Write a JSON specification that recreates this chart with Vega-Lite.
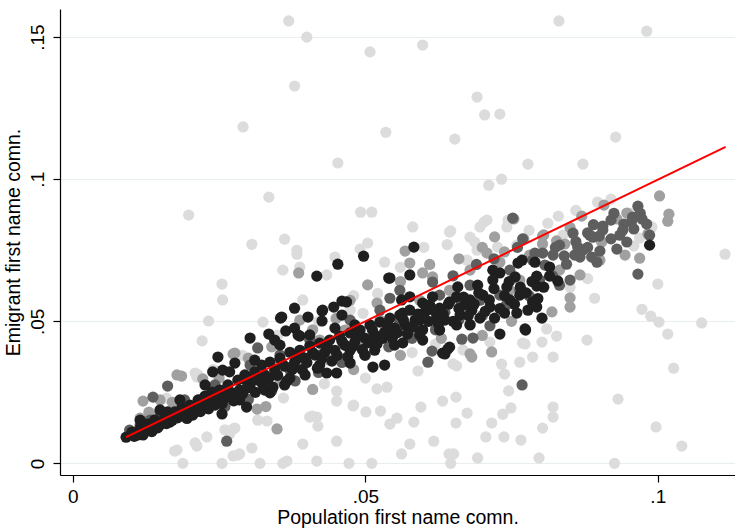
{
  "$schema": "https://vega.github.io/schema/vega-lite/v6.json",
  "width": 675,
  "height": 466,
  "autosize": {"type": "none"},
  "padding": {"left": 60, "top": 9, "right": 0, "bottom": 53},
  "background": "white",
  "config": {
    "view": {"stroke": null},
    "font": "Liberation Sans",
    "axis": {
      "domainColor": "#000000",
      "tickColor": "#000000",
      "labelColor": "#000000",
      "titleColor": "#000000",
      "labelFont": "Liberation Sans",
      "titleFont": "Liberation Sans",
      "labelFontSize": 19,
      "titleFontSize": 19.5,
      "titleFontWeight": "normal",
      "tickSize": 7,
      "domainWidth": 1.2,
      "tickWidth": 1.2
    }
  },
  "layer": [
    {
      "data": {
        "values": [
          {"x":0.0369,"y":0.1557,"g":"a"},{"x":0.0400,"y":0.1500,"g":"a"},{"x":0.0379,"y":0.1328,"g":"a"},{"x":0.0291,"y":0.1184,"g":"a"},
          {"x":0.0453,"y":0.1057,"g":"a"},{"x":0.0335,"y":0.0937,"g":"a"},{"x":0.0198,"y":0.0874,"g":"a"},{"x":0.0492,"y":0.0884,"g":"a"},
          {"x":0.0511,"y":0.0884,"g":"a"},{"x":0.0306,"y":0.0771,"g":"a"},{"x":0.0362,"y":0.0789,"g":"a"},{"x":0.0383,"y":0.0750,"g":"a"},
          {"x":0.0383,"y":0.0736,"g":"a"},{"x":0.0448,"y":0.0726,"g":"a"},{"x":0.0491,"y":0.0754,"g":"a"},{"x":0.0504,"y":0.0775,"g":"a"},
          {"x":0.0508,"y":0.1448,"g":"a"},{"x":0.0831,"y":0.1557,"g":"a"},{"x":0.0981,"y":0.1521,"g":"a"},{"x":0.0598,"y":0.1472,"g":"a"},
          {"x":0.0691,"y":0.1289,"g":"a"},{"x":0.0704,"y":0.1226,"g":"a"},{"x":0.0730,"y":0.1229,"g":"a"},{"x":0.0535,"y":0.1165,"g":"a"},
          {"x":0.0653,"y":0.1141,"g":"a"},{"x":0.0928,"y":0.1148,"g":"a"},{"x":0.0778,"y":0.1053,"g":"a"},{"x":0.0872,"y":0.1053,"g":"a"},
          {"x":0.0711,"y":0.0979,"g":"a"},{"x":0.0733,"y":0.1000,"g":"a"},{"x":0.1115,"y":0.0736,"g":"a"},{"x":0.0581,"y":0.0832,"g":"a"},
          {"x":0.0646,"y":0.0818,"g":"a"},{"x":0.0696,"y":0.0832,"g":"a"},{"x":0.0703,"y":0.0849,"g":"a"},{"x":0.0744,"y":0.0856,"g":"a"},
          {"x":0.0679,"y":0.0796,"g":"a"},{"x":0.0687,"y":0.0779,"g":"a"},{"x":0.0812,"y":0.0845,"g":"a"},{"x":0.0897,"y":0.0919,"g":"a"},
          {"x":0.0920,"y":0.0930,"g":"a"},{"x":0.0990,"y":0.0832,"g":"a"},{"x":0.0969,"y":0.0793,"g":"a"},{"x":0.0959,"y":0.0765,"g":"a"},
          {"x":0.0726,"y":0.0761,"g":"a"},{"x":0.0759,"y":0.0768,"g":"a"},{"x":0.0708,"y":0.0856,"g":"a"},{"x":0.0742,"y":0.0832,"g":"a"},
          {"x":0.0691,"y":0.0750,"g":"a"},{"x":0.0674,"y":0.0715,"g":"a"},{"x":0.0644,"y":0.0814,"g":"a"},{"x":0.0769,"y":0.0423,"g":"a"},
          {"x":0.0786,"y":0.0374,"g":"a"},{"x":0.0713,"y":0.0427,"g":"a"},{"x":0.0838,"y":0.0803,"g":"a"},{"x":0.0952,"y":0.0881,"g":"a"},
          {"x":0.0892,"y":0.0581,"g":"a"},{"x":0.0255,"y":0.0631,"g":"a"},{"x":0.0256,"y":0.0575,"g":"a"},{"x":0.0232,"y":0.0501,"g":"a"},
          {"x":0.0221,"y":0.0431,"g":"a"},{"x":0.0212,"y":0.0304,"g":"a"},{"x":0.0332,"y":0.0149,"g":"a"},{"x":0.0274,"y":0.0121,"g":"a"},
          {"x":0.0268,"y":0.0103,"g":"a"},{"x":0.0229,"y":0.0093,"g":"a"},{"x":0.0212,"y":0.0061,"g":"a"},{"x":0.0174,"y":0.0043,"g":"a"},
          {"x":0.0188,"y":0.0000,"g":"a"},{"x":0.0255,"y":0.0000,"g":"a"},{"x":0.0274,"y":0.0026,"g":"a"},{"x":0.0285,"y":0.0033,"g":"a"},
          {"x":0.0306,"y":0.0054,"g":"a"},{"x":0.0320,"y":0.0000,"g":"a"},{"x":0.0359,"y":0.0000,"g":"a"},{"x":0.0366,"y":0.0008,"g":"a"},
          {"x":0.0393,"y":0.0068,"g":"a"},{"x":0.0417,"y":0.0008,"g":"a"},{"x":0.0451,"y":0.0078,"g":"a"},{"x":0.0472,"y":0.0000,"g":"a"},
          {"x":0.0405,"y":0.0163,"g":"a"},{"x":0.0417,"y":0.0163,"g":"a"},{"x":0.0451,"y":0.0254,"g":"a"},{"x":0.0451,"y":0.0219,"g":"a"},
          {"x":0.0479,"y":0.0202,"g":"a"},{"x":0.0178,"y":0.0047,"g":"a"},{"x":0.0209,"y":0.0072,"g":"a"},{"x":0.0260,"y":0.0118,"g":"a"},
          {"x":0.0277,"y":0.0124,"g":"a"},{"x":0.0282,"y":0.0029,"g":"a"},{"x":0.0316,"y":0.0152,"g":"a"},{"x":0.0209,"y":0.0318,"g":"a"},
          {"x":0.0520,"y":0.0262,"g":"a"},{"x":0.0480,"y":0.0205,"g":"a"},{"x":0.0501,"y":0.0181,"g":"a"},{"x":0.0526,"y":0.0184,"g":"a"},
          {"x":0.0554,"y":0.0159,"g":"a"},{"x":0.0542,"y":0.0138,"g":"a"},{"x":0.0595,"y":0.0198,"g":"a"},{"x":0.0583,"y":0.0145,"g":"a"},
          {"x":0.0632,"y":0.0219,"g":"a"},{"x":0.0655,"y":0.0233,"g":"a"},{"x":0.0655,"y":0.0142,"g":"a"},{"x":0.0674,"y":0.0177,"g":"a"},
          {"x":0.0562,"y":0.0033,"g":"a"},{"x":0.0576,"y":0.0068,"g":"a"},{"x":0.0617,"y":0.0078,"g":"a"},{"x":0.0643,"y":0.0033,"g":"a"},
          {"x":0.0651,"y":0.0033,"g":"a"},{"x":0.0646,"y":0.0000,"g":"a"},{"x":0.0511,"y":0.0000,"g":"a"},{"x":0.0409,"y":0.0166,"g":"a"},
          {"x":0.0419,"y":0.0131,"g":"a"},{"x":0.0973,"y":0.0542,"g":"a"},{"x":0.0988,"y":0.0518,"g":"a"},{"x":0.1002,"y":0.0497,"g":"a"},
          {"x":0.1017,"y":0.0455,"g":"a"},{"x":0.1075,"y":0.0494,"g":"a"},{"x":0.1027,"y":0.0335,"g":"a"},{"x":0.0932,"y":0.0226,"g":"a"},
          {"x":0.0997,"y":0.0128,"g":"a"},{"x":0.1041,"y":0.0061,"g":"a"},{"x":0.0926,"y":0.0000,"g":"a"},{"x":0.0879,"y":0.0434,"g":"a"},
          {"x":0.0827,"y":0.0448,"g":"a"},{"x":0.0810,"y":0.0473,"g":"a"},{"x":0.0802,"y":0.0427,"g":"a"},{"x":0.0773,"y":0.0420,"g":"a"},
          {"x":0.0821,"y":0.0374,"g":"a"},{"x":0.0764,"y":0.0356,"g":"a"},{"x":0.0733,"y":0.0349,"g":"a"},{"x":0.0738,"y":0.0314,"g":"a"},
          {"x":0.0745,"y":0.0255,"g":"a"},{"x":0.0749,"y":0.0195,"g":"a"},{"x":0.0735,"y":0.0173,"g":"a"},{"x":0.0716,"y":0.0142,"g":"a"},
          {"x":0.0706,"y":0.0093,"g":"a"},{"x":0.0737,"y":0.0093,"g":"a"},{"x":0.0766,"y":0.0082,"g":"a"},{"x":0.0692,"y":0.0019,"g":"a"},
          {"x":0.0797,"y":0.0019,"g":"a"},{"x":0.0803,"y":0.0124,"g":"a"},{"x":0.0821,"y":0.0198,"g":"a"},{"x":0.0821,"y":0.0163,"g":"a"},
          {"x":0.0667,"y":0.0399,"g":"a"},{"x":0.1000,"y":0.0631,"g":"a"},{"x":0.0590,"y":0.0325,"g":"a"},{"x":0.0650,"y":0.0350,"g":"a"},
          {"x":0.0656,"y":0.0343,"g":"a"},{"x":0.0359,"y":0.0680,"g":"a"},{"x":0.0388,"y":0.0691,"g":"a"},{"x":0.0434,"y":0.0663,"g":"a"},
          {"x":0.0533,"y":0.0708,"g":"a"},{"x":0.0521,"y":0.0598,"g":"a"},{"x":0.0496,"y":0.0528,"g":"a"},{"x":0.0393,"y":0.0575,"g":"a"},
          {"x":0.0325,"y":0.0497,"g":"a"},{"x":0.0474,"y":0.0539,"g":"a"},{"x":0.0537,"y":0.0268,"g":"a"},{"x":0.0214,"y":0.0311,"g":"a"},
          {"x":0.0160,"y":0.0230,"g":"a"},{"x":0.0240,"y":0.0330,"g":"a"},{"x":0.0290,"y":0.0380,"g":"a"},{"x":0.0350,"y":0.0450,"g":"a"},
          {"x":0.0420,"y":0.0500,"g":"a"},{"x":0.0480,"y":0.0590,"g":"a"},{"x":0.0560,"y":0.0690,"g":"a"},{"x":0.0600,"y":0.0760,"g":"a"},
          {"x":0.0640,"y":0.0770,"g":"a"},{"x":0.0360,"y":0.0230,"g":"a"},{"x":0.0430,"y":0.0280,"g":"a"},{"x":0.0500,"y":0.0300,"g":"a"},
          {"x":0.0580,"y":0.0390,"g":"a"},{"x":0.0620,"y":0.0420,"g":"a"},{"x":0.0850,"y":0.0620,"g":"a"},{"x":0.0880,"y":0.0650,"g":"a"},
          {"x":0.0780,"y":0.0820,"g":"a"},{"x":0.0830,"y":0.0870,"g":"a"},{"x":0.0860,"y":0.0890,"g":"a"},

          {"x":0.1003,"y":0.0941,"g":"b"},{"x":0.1019,"y":0.0877,"g":"b"},{"x":0.1017,"y":0.0852,"g":"b"},{"x":0.0908,"y":0.0909,"g":"b"},
          {"x":0.0947,"y":0.0881,"g":"b"},{"x":0.0568,"y":0.0747,"g":"b"},{"x":0.0754,"y":0.0860,"g":"b"},{"x":0.0721,"y":0.0797,"g":"b"},
          {"x":0.0771,"y":0.0790,"g":"b"},{"x":0.0805,"y":0.0804,"g":"b"},{"x":0.0803,"y":0.0772,"g":"b"},{"x":0.0904,"y":0.0779,"g":"b"},
          {"x":0.0841,"y":0.0772,"g":"b"},{"x":0.0708,"y":0.0740,"g":"b"},{"x":0.0576,"y":0.0705,"g":"b"},{"x":0.0598,"y":0.0670,"g":"b"},
          {"x":0.0615,"y":0.0656,"g":"b"},{"x":0.0738,"y":0.0744,"g":"b"},{"x":0.0682,"y":0.0374,"g":"b"},{"x":0.0983,"y":0.0807,"g":"b"},
          {"x":0.0850,"y":0.0582,"g":"b"},{"x":0.0850,"y":0.0550,"g":"b"},{"x":0.0819,"y":0.0533,"g":"b"},{"x":0.0803,"y":0.0800,"g":"b"},
          {"x":0.0827,"y":0.0783,"g":"b"},{"x":0.0716,"y":0.0392,"g":"b"},{"x":0.0679,"y":0.0385,"g":"b"},{"x":0.0274,"y":0.0385,"g":"b"},
          {"x":0.0186,"y":0.0307,"g":"b"},{"x":0.0120,"y":0.0219,"g":"b"},{"x":0.0222,"y":0.0297,"g":"b"},{"x":0.0315,"y":0.0191,"g":"b"},
          {"x":0.0349,"y":0.0121,"g":"b"},{"x":0.0388,"y":0.0350,"g":"b"},{"x":0.0388,"y":0.0374,"g":"b"},{"x":0.0386,"y":0.0670,"g":"b"},
          {"x":0.0504,"y":0.0628,"g":"b"},{"x":0.0520,"y":0.0564,"g":"b"},{"x":0.0277,"y":0.0388,"g":"b"},{"x":0.0178,"y":0.0311,"g":"b"},
          {"x":0.0149,"y":0.0223,"g":"b"},{"x":0.0234,"y":0.0265,"g":"b"},{"x":0.0320,"y":0.0322,"g":"b"},{"x":0.0422,"y":0.0434,"g":"b"},
          {"x":0.0465,"y":0.0469,"g":"b"},{"x":0.0525,"y":0.0504,"g":"b"},{"x":0.0593,"y":0.0574,"g":"b"},{"x":0.0644,"y":0.0609,"g":"b"},
          {"x":0.0764,"y":0.0645,"g":"b"},{"x":0.0832,"y":0.0680,"g":"b"},{"x":0.0901,"y":0.0715,"g":"b"},{"x":0.0944,"y":0.0733,"g":"b"},
          {"x":0.0969,"y":0.0722,"g":"b"},{"x":0.0474,"y":0.0574,"g":"b"},{"x":0.0388,"y":0.0504,"g":"b"},{"x":0.0679,"y":0.0680,"g":"b"},
          {"x":0.0730,"y":0.0708,"g":"b"},{"x":0.0781,"y":0.0733,"g":"b"},{"x":0.0115,"y":0.0159,"g":"b"},{"x":0.0200,"y":0.0188,"g":"b"},
          {"x":0.0285,"y":0.0240,"g":"b"},{"x":0.0354,"y":0.0293,"g":"b"},{"x":0.0439,"y":0.0363,"g":"b"},{"x":0.0491,"y":0.0416,"g":"b"},
          {"x":0.0576,"y":0.0469,"g":"b"},{"x":0.0627,"y":0.0504,"g":"b"},{"x":0.0747,"y":0.0609,"g":"b"},{"x":0.0867,"y":0.0663,"g":"b"},
          {"x":0.0130,"y":0.0180,"g":"b"},{"x":0.0170,"y":0.0215,"g":"b"},{"x":0.0250,"y":0.0300,"g":"b"},{"x":0.0300,"y":0.0370,"g":"b"},
          {"x":0.0340,"y":0.0410,"g":"b"},{"x":0.0410,"y":0.0470,"g":"b"},{"x":0.0450,"y":0.0510,"g":"b"},{"x":0.0560,"y":0.0640,"g":"b"},
          {"x":0.0610,"y":0.0700,"g":"b"},{"x":0.0660,"y":0.0720,"g":"b"},{"x":0.0700,"y":0.0760,"g":"b"},{"x":0.0850,"y":0.0830,"g":"b"},
          {"x":0.0870,"y":0.0870,"g":"b"},{"x":0.0930,"y":0.0860,"g":"b"},{"x":0.0330,"y":0.0200,"g":"b"},{"x":0.0410,"y":0.0260,"g":"b"},
          {"x":0.0480,"y":0.0330,"g":"b"},{"x":0.0560,"y":0.0380,"g":"b"},{"x":0.0630,"y":0.0440,"g":"b"},{"x":0.0700,"y":0.0450,"g":"b"},
          {"x":0.0750,"y":0.0500,"g":"b"},

          {"x":0.0966,"y":0.0905,"g":"c"},{"x":0.0957,"y":0.0867,"g":"c"},{"x":0.0973,"y":0.0860,"g":"c"},{"x":0.0981,"y":0.0842,"g":"c"},
          {"x":0.0942,"y":0.0842,"g":"c"},{"x":0.0959,"y":0.0825,"g":"c"},{"x":0.0906,"y":0.0835,"g":"c"},{"x":0.0920,"y":0.0856,"g":"c"},
          {"x":0.0947,"y":0.0779,"g":"c"},{"x":0.0930,"y":0.0754,"g":"c"},{"x":0.0884,"y":0.0803,"g":"c"},{"x":0.0889,"y":0.0796,"g":"c"},
          {"x":0.0832,"y":0.0768,"g":"c"},{"x":0.0863,"y":0.0761,"g":"c"},{"x":0.0901,"y":0.0747,"g":"c"},{"x":0.0821,"y":0.0733,"g":"c"},
          {"x":0.0966,"y":0.0666,"g":"c"},{"x":0.0768,"y":0.0276,"g":"c"},{"x":0.0880,"y":0.0811,"g":"c"},{"x":0.0906,"y":0.0821,"g":"c"},
          {"x":0.0872,"y":0.0751,"g":"c"},{"x":0.0867,"y":0.0726,"g":"c"},{"x":0.0887,"y":0.0726,"g":"c"},{"x":0.0896,"y":0.0708,"g":"c"},
          {"x":0.0844,"y":0.0701,"g":"c"},{"x":0.0803,"y":0.0740,"g":"c"},{"x":0.0850,"y":0.0645,"g":"c"},{"x":0.0786,"y":0.0715,"g":"c"},
          {"x":0.0752,"y":0.0863,"g":"c"},{"x":0.0769,"y":0.0790,"g":"c"},{"x":0.0679,"y":0.0489,"g":"c"},{"x":0.0684,"y":0.0441,"g":"c"},
          {"x":0.0665,"y":0.0437,"g":"c"},{"x":0.0713,"y":0.0484,"g":"c"},{"x":0.0615,"y":0.0638,"g":"c"},{"x":0.0542,"y":0.0581,"g":"c"},
          {"x":0.0316,"y":0.0406,"g":"c"},{"x":0.0162,"y":0.0272,"g":"c"},{"x":0.0137,"y":0.0233,"g":"c"},{"x":0.0263,"y":0.0078,"g":"c"},
          {"x":0.0607,"y":0.0356,"g":"c"},{"x":0.0614,"y":0.0395,"g":"c"},{"x":0.0097,"y":0.0117,"g":"c"},{"x":0.0132,"y":0.0152,"g":"c"},
          {"x":0.0174,"y":0.0170,"g":"c"},{"x":0.0217,"y":0.0223,"g":"c"},{"x":0.0268,"y":0.0240,"g":"c"},{"x":0.0328,"y":0.0293,"g":"c"},
          {"x":0.0371,"y":0.0328,"g":"c"},{"x":0.0422,"y":0.0381,"g":"c"},{"x":0.0465,"y":0.0416,"g":"c"},{"x":0.0516,"y":0.0452,"g":"c"},
          {"x":0.0559,"y":0.0497,"g":"c"},{"x":0.0593,"y":0.0522,"g":"c"},{"x":0.0636,"y":0.0532,"g":"c"},{"x":0.0662,"y":0.0574,"g":"c"},
          {"x":0.0696,"y":0.0574,"g":"c"},{"x":0.0730,"y":0.0592,"g":"c"},{"x":0.0764,"y":0.0609,"g":"c"},{"x":0.0798,"y":0.0645,"g":"c"},
          {"x":0.0832,"y":0.0627,"g":"c"},{"x":0.0747,"y":0.0680,"g":"c"},{"x":0.0679,"y":0.0627,"g":"c"},{"x":0.0627,"y":0.0592,"g":"c"},
          {"x":0.0559,"y":0.0609,"g":"c"},{"x":0.0525,"y":0.0539,"g":"c"},{"x":0.0474,"y":0.0504,"g":"c"},{"x":0.0405,"y":0.0434,"g":"c"},
          {"x":0.0354,"y":0.0381,"g":"c"},{"x":0.0303,"y":0.0346,"g":"c"},{"x":0.0243,"y":0.0276,"g":"c"},{"x":0.0191,"y":0.0223,"g":"c"},
          {"x":0.0149,"y":0.0181,"g":"c"},{"x":0.0115,"y":0.0135,"g":"c"},{"x":0.0935,"y":0.0803,"g":"c"},{"x":0.0986,"y":0.0803,"g":"c"},
          {"x":0.0858,"y":0.0733,"g":"c"},{"x":0.0807,"y":0.0698,"g":"c"},
          {"x":0.0260,"y":0.0200,"g":"c"},{"x":0.0300,"y":0.0225,"g":"c"},{"x":0.0340,"y":0.0255,"g":"c"},{"x":0.0380,"y":0.0290,"g":"c"},
          {"x":0.0420,"y":0.0320,"g":"c"},{"x":0.0460,"y":0.0355,"g":"c"},{"x":0.0500,"y":0.0380,"g":"c"},{"x":0.0540,"y":0.0410,"g":"c"},
          {"x":0.0580,"y":0.0440,"g":"c"},{"x":0.0620,"y":0.0470,"g":"c"},{"x":0.0660,"y":0.0505,"g":"c"},{"x":0.0700,"y":0.0520,"g":"c"},
          {"x":0.0740,"y":0.0555,"g":"c"},{"x":0.0780,"y":0.0590,"g":"c"},{"x":0.0820,"y":0.0660,"g":"c"},{"x":0.0840,"y":0.0730,"g":"c"},
          {"x":0.0860,"y":0.0780,"g":"c"},{"x":0.0880,"y":0.0760,"g":"c"},{"x":0.0900,"y":0.0800,"g":"c"},{"x":0.0920,"y":0.0790,"g":"c"},
          {"x":0.0940,"y":0.0820,"g":"c"},{"x":0.0955,"y":0.0850,"g":"c"},{"x":0.0970,"y":0.0880,"g":"c"},{"x":0.0925,"y":0.0880,"g":"c"},
          {"x":0.0890,"y":0.0840,"g":"c"},{"x":0.0855,"y":0.0810,"g":"c"},{"x":0.0825,"y":0.0760,"g":"c"},{"x":0.0790,"y":0.0740,"g":"c"},
          {"x":0.0760,"y":0.0760,"g":"c"},{"x":0.0720,"y":0.0720,"g":"c"},{"x":0.0690,"y":0.0700,"g":"c"},{"x":0.0650,"y":0.0660,"g":"c"},

          {"x":0.0453,"y":0.0701,"g":"d"},{"x":0.0497,"y":0.0729,"g":"d"},{"x":0.0417,"y":0.0659,"g":"d"},{"x":0.0540,"y":0.0652,"g":"d"},
          {"x":0.0583,"y":0.0761,"g":"d"},{"x":0.0986,"y":0.0768,"g":"d"},{"x":0.0357,"y":0.0515,"g":"d"},{"x":0.0379,"y":0.0546,"g":"d"},
          {"x":0.0402,"y":0.0515,"g":"d"},{"x":0.0426,"y":0.0536,"g":"d"},{"x":0.0446,"y":0.0550,"g":"d"},{"x":0.0460,"y":0.0571,"g":"d"},
          {"x":0.0468,"y":0.0568,"g":"d"},{"x":0.0460,"y":0.0522,"g":"d"},{"x":0.0426,"y":0.0501,"g":"d"},{"x":0.0335,"y":0.0455,"g":"d"},
          {"x":0.0364,"y":0.0466,"g":"d"},{"x":0.0379,"y":0.0476,"g":"d"},{"x":0.0388,"y":0.0448,"g":"d"},{"x":0.0355,"y":0.0511,"g":"d"},
          {"x":0.0427,"y":0.0539,"g":"d"},{"x":0.0345,"y":0.0434,"g":"d"},{"x":0.0385,"y":0.0452,"g":"d"},{"x":0.0303,"y":0.0441,"g":"d"},
          {"x":0.0248,"y":0.0374,"g":"d"},{"x":0.0277,"y":0.0353,"g":"d"},{"x":0.0239,"y":0.0322,"g":"d"},{"x":0.0256,"y":0.0328,"g":"d"},
          {"x":0.0297,"y":0.0290,"g":"d"},{"x":0.0297,"y":0.0198,"g":"d"},{"x":0.0255,"y":0.0174,"g":"d"},{"x":0.0434,"y":0.0318,"g":"d"},
          {"x":0.0451,"y":0.0318,"g":"d"},{"x":0.0397,"y":0.0311,"g":"d"},{"x":0.0362,"y":0.0276,"g":"d"},{"x":0.0337,"y":0.0248,"g":"d"},
          {"x":0.0474,"y":0.0353,"g":"d"},{"x":0.0513,"y":0.0339,"g":"d"},{"x":0.0533,"y":0.0346,"g":"d"},{"x":0.0774,"y":0.0469,"g":"d"},
          {"x":0.0730,"y":0.0455,"g":"d"},{"x":0.0802,"y":0.0511,"g":"d"},{"x":0.0636,"y":0.0385,"g":"d"},{"x":0.0641,"y":0.0402,"g":"d"},
          {"x":0.0768,"y":0.0715,"g":"d"},{"x":0.0790,"y":0.0708,"g":"d"},{"x":0.0815,"y":0.0691,"g":"d"},{"x":0.0815,"y":0.0659,"g":"d"},
          {"x":0.0829,"y":0.0642,"g":"d"},{"x":0.0793,"y":0.0659,"g":"d"},{"x":0.0793,"y":0.0624,"g":"d"},{"x":0.0786,"y":0.0568,"g":"d"},
          {"x":0.0761,"y":0.0705,"g":"d"},{"x":0.0718,"y":0.0680,"g":"d"},{"x":0.0730,"y":0.0670,"g":"d"},{"x":0.0756,"y":0.0656,"g":"d"},
          {"x":0.0742,"y":0.0621,"g":"d"},{"x":0.0718,"y":0.0645,"g":"d"},{"x":0.0692,"y":0.0627,"g":"d"},{"x":0.0701,"y":0.0592,"g":"d"},
          {"x":0.0679,"y":0.0575,"g":"d"},{"x":0.0656,"y":0.0586,"g":"d"},{"x":0.0658,"y":0.0621,"g":"d"},{"x":0.0644,"y":0.0568,"g":"d"},
          {"x":0.0615,"y":0.0586,"g":"d"},{"x":0.0598,"y":0.0564,"g":"d"},{"x":0.0576,"y":0.0586,"g":"d"},{"x":0.0562,"y":0.0575,"g":"d"},
          {"x":0.0564,"y":0.0529,"g":"d"},{"x":0.0593,"y":0.0504,"g":"d"},{"x":0.0622,"y":0.0515,"g":"d"},{"x":0.0656,"y":0.0487,"g":"d"},
          {"x":0.0682,"y":0.0539,"g":"d"},{"x":0.0713,"y":0.0550,"g":"d"},{"x":0.0738,"y":0.0529,"g":"d"},{"x":0.0759,"y":0.0529,"g":"d"},
          {"x":0.0778,"y":0.0539,"g":"d"},{"x":0.0793,"y":0.0550,"g":"d"},{"x":0.0773,"y":0.0473,"g":"d"},{"x":0.0644,"y":0.0409,"g":"d"},
          {"x":0.0632,"y":0.0388,"g":"d"},{"x":0.0598,"y":0.0434,"g":"d"},{"x":0.0564,"y":0.0424,"g":"d"},{"x":0.0547,"y":0.0469,"g":"d"},
          {"x":0.0576,"y":0.0663,"g":"d"},{"x":0.0542,"y":0.0652,"g":"d"},
          {"x":0.0091,"y":0.0092,"g":"d"},{"x":0.0101,"y":0.0110,"g":"d"},{"x":0.0111,"y":0.0100,"g":"d"},{"x":0.0115,"y":0.0124,"g":"d"},
          {"x":0.0123,"y":0.0110,"g":"d"},{"x":0.0128,"y":0.0138,"g":"d"},{"x":0.0135,"y":0.0124,"g":"d"},{"x":0.0140,"y":0.0153,"g":"d"},
          {"x":0.0149,"y":0.0135,"g":"d"},{"x":0.0157,"y":0.0160,"g":"d"},{"x":0.0162,"y":0.0181,"g":"d"},{"x":0.0166,"y":0.0145,"g":"d"},
          {"x":0.0174,"y":0.0181,"g":"d"},{"x":0.0179,"y":0.0160,"g":"d"},{"x":0.0186,"y":0.0195,"g":"d"},{"x":0.0193,"y":0.0170,"g":"d"},
          {"x":0.0200,"y":0.0205,"g":"d"},{"x":0.0207,"y":0.0181,"g":"d"},{"x":0.0214,"y":0.0223,"g":"d"},{"x":0.0217,"y":0.0195,"g":"d"},
          {"x":0.0226,"y":0.0237,"g":"d"},{"x":0.0231,"y":0.0209,"g":"d"},{"x":0.0238,"y":0.0251,"g":"d"},{"x":0.0243,"y":0.0223,"g":"d"},
          {"x":0.0251,"y":0.0258,"g":"d"},{"x":0.0260,"y":0.0230,"g":"d"},{"x":0.0265,"y":0.0276,"g":"d"},{"x":0.0272,"y":0.0248,"g":"d"},
          {"x":0.0282,"y":0.0293,"g":"d"},{"x":0.0285,"y":0.0258,"g":"d"},{"x":0.0294,"y":0.0311,"g":"d"},{"x":0.0303,"y":0.0276,"g":"d"},
          {"x":0.0311,"y":0.0322,"g":"d"},{"x":0.0316,"y":0.0293,"g":"d"},{"x":0.0323,"y":0.0346,"g":"d"},{"x":0.0328,"y":0.0311,"g":"d"},
          {"x":0.0337,"y":0.0356,"g":"d"},{"x":0.0345,"y":0.0328,"g":"d"},{"x":0.0354,"y":0.0370,"g":"d"},{"x":0.0362,"y":0.0342,"g":"d"},
          {"x":0.0371,"y":0.0391,"g":"d"},{"x":0.0379,"y":0.0356,"g":"d"},{"x":0.0388,"y":0.0398,"g":"d"},{"x":0.0397,"y":0.0370,"g":"d"},
          {"x":0.0405,"y":0.0413,"g":"d"},{"x":0.0414,"y":0.0381,"g":"d"},{"x":0.0422,"y":0.0423,"g":"d"},{"x":0.0431,"y":0.0391,"g":"d"},
          {"x":0.0439,"y":0.0434,"g":"d"},{"x":0.0448,"y":0.0398,"g":"d"},{"x":0.0456,"y":0.0448,"g":"d"},{"x":0.0465,"y":0.0416,"g":"d"},
          {"x":0.0474,"y":0.0459,"g":"d"},{"x":0.0482,"y":0.0427,"g":"d"},{"x":0.0491,"y":0.0469,"g":"d"},{"x":0.0499,"y":0.0441,"g":"d"},
          {"x":0.0508,"y":0.0487,"g":"d"},{"x":0.0516,"y":0.0452,"g":"d"},{"x":0.0525,"y":0.0497,"g":"d"},{"x":0.0533,"y":0.0462,"g":"d"},
          {"x":0.0542,"y":0.0511,"g":"d"},{"x":0.0550,"y":0.0476,"g":"d"},{"x":0.0559,"y":0.0522,"g":"d"},{"x":0.0568,"y":0.0487,"g":"d"},
          {"x":0.0576,"y":0.0539,"g":"d"},{"x":0.0585,"y":0.0504,"g":"d"},{"x":0.0602,"y":0.0532,"g":"d"},{"x":0.0610,"y":0.0557,"g":"d"},
          {"x":0.0627,"y":0.0546,"g":"d"},{"x":0.0636,"y":0.0504,"g":"d"},{"x":0.0662,"y":0.0522,"g":"d"},{"x":0.0670,"y":0.0557,"g":"d"},
          {"x":0.0696,"y":0.0511,"g":"d"},{"x":0.0721,"y":0.0511,"g":"d"},{"x":0.0747,"y":0.0575,"g":"d"},{"x":0.0764,"y":0.0592,"g":"d"},
          {"x":0.0482,"y":0.0487,"g":"d"},{"x":0.0448,"y":0.0476,"g":"d"},{"x":0.0405,"y":0.0452,"g":"d"},{"x":0.0354,"y":0.0416,"g":"d"},
          {"x":0.0311,"y":0.0363,"g":"d"},{"x":0.0268,"y":0.0322,"g":"d"},{"x":0.0226,"y":0.0276,"g":"d"},{"x":0.0183,"y":0.0223,"g":"d"},
          {"x":0.0149,"y":0.0188,"g":"d"},{"x":0.0115,"y":0.0152,"g":"d"},{"x":0.0499,"y":0.0381,"g":"d"},{"x":0.0550,"y":0.0416,"g":"d"},
          {"x":0.0593,"y":0.0452,"g":"d"},{"x":0.0627,"y":0.0469,"g":"d"},{"x":0.0679,"y":0.0487,"g":"d"},{"x":0.0516,"y":0.0398,"g":"d"},
          {"x":0.0474,"y":0.0398,"g":"d"},{"x":0.0422,"y":0.0346,"g":"d"},{"x":0.0371,"y":0.0300,"g":"d"},{"x":0.0328,"y":0.0258,"g":"d"},
          {"x":0.0285,"y":0.0223,"g":"d"},{"x":0.0243,"y":0.0205,"g":"d"},
          {"x":0.0105,"y":0.0095,"g":"d"},{"x":0.0120,"y":0.0100,"g":"d"},{"x":0.0135,"y":0.0112,"g":"d"},{"x":0.0145,"y":0.0125,"g":"d"},
          {"x":0.0160,"y":0.0140,"g":"d"},{"x":0.0170,"y":0.0152,"g":"d"},{"x":0.0185,"y":0.0168,"g":"d"},{"x":0.0195,"y":0.0158,"g":"d"},
          {"x":0.0205,"y":0.0170,"g":"d"},{"x":0.0218,"y":0.0182,"g":"d"},{"x":0.0232,"y":0.0192,"g":"d"},{"x":0.0245,"y":0.0240,"g":"d"},
          {"x":0.0255,"y":0.0210,"g":"d"},{"x":0.0262,"y":0.0250,"g":"d"},{"x":0.0275,"y":0.0220,"g":"d"},{"x":0.0290,"y":0.0245,"g":"d"},
          {"x":0.0298,"y":0.0265,"g":"d"},{"x":0.0308,"y":0.0300,"g":"d"},{"x":0.0312,"y":0.0250,"g":"d"},{"x":0.0325,"y":0.0275,"g":"d"},
          {"x":0.0335,"y":0.0300,"g":"d"},{"x":0.0342,"y":0.0268,"g":"d"},{"x":0.0350,"y":0.0310,"g":"d"},{"x":0.0358,"y":0.0350,"g":"d"},
          {"x":0.0366,"y":0.0290,"g":"d"},{"x":0.0375,"y":0.0330,"g":"d"},{"x":0.0383,"y":0.0370,"g":"d"},{"x":0.0392,"y":0.0330,"g":"d"},
          {"x":0.0400,"y":0.0355,"g":"d"},{"x":0.0410,"y":0.0390,"g":"d"},{"x":0.0418,"y":0.0335,"g":"d"},{"x":0.0426,"y":0.0370,"g":"d"},
          {"x":0.0435,"y":0.0410,"g":"d"},{"x":0.0443,"y":0.0360,"g":"d"},{"x":0.0452,"y":0.0380,"g":"d"},{"x":0.0460,"y":0.0430,"g":"d"},
          {"x":0.0470,"y":0.0375,"g":"d"},{"x":0.0478,"y":0.0410,"g":"d"},{"x":0.0486,"y":0.0450,"g":"d"},{"x":0.0495,"y":0.0400,"g":"d"},
          {"x":0.0505,"y":0.0425,"g":"d"},{"x":0.0512,"y":0.0470,"g":"d"},{"x":0.0520,"y":0.0420,"g":"d"},{"x":0.0530,"y":0.0440,"g":"d"},
          {"x":0.0538,"y":0.0490,"g":"d"},{"x":0.0546,"y":0.0440,"g":"d"},{"x":0.0555,"y":0.0460,"g":"d"},{"x":0.0565,"y":0.0505,"g":"d"},
          {"x":0.0572,"y":0.0455,"g":"d"},{"x":0.0582,"y":0.0480,"g":"d"},{"x":0.0590,"y":0.0525,"g":"d"},{"x":0.0598,"y":0.0470,"g":"d"},
          {"x":0.0608,"y":0.0500,"g":"d"},{"x":0.0616,"y":0.0540,"g":"d"},{"x":0.0625,"y":0.0490,"g":"d"},{"x":0.0633,"y":0.0525,"g":"d"},
          {"x":0.0642,"y":0.0560,"g":"d"},{"x":0.0650,"y":0.0500,"g":"d"},{"x":0.0660,"y":0.0545,"g":"d"},{"x":0.0668,"y":0.0585,"g":"d"},
          {"x":0.0676,"y":0.0520,"g":"d"},{"x":0.0686,"y":0.0560,"g":"d"},{"x":0.0694,"y":0.0600,"g":"d"},{"x":0.0705,"y":0.0535,"g":"d"},
          {"x":0.0712,"y":0.0575,"g":"d"},{"x":0.0720,"y":0.0615,"g":"d"},{"x":0.0730,"y":0.0545,"g":"d"},{"x":0.0738,"y":0.0590,"g":"d"},
          {"x":0.0746,"y":0.0640,"g":"d"},{"x":0.0755,"y":0.0560,"g":"d"},{"x":0.0765,"y":0.0620,"g":"d"},{"x":0.0775,"y":0.0600,"g":"d"},
          {"x":0.0785,"y":0.0640,"g":"d"},{"x":0.0795,"y":0.0580,"g":"d"},{"x":0.0805,"y":0.0620,"g":"d"}
        ]
      },
      "mark": {"type": "circle", "size": 126, "opacity": 1, "stroke": null},
      "encoding": {
        "x": {
          "field": "x", "type": "quantitative",
          "scale": {"domain": [-0.0022, 0.1132], "nice": false, "zero": false},
          "axis": {
            "title": "Population first name comn.",
            "values": [0, 0.05, 0.1],
            "labelExpr": "datum.value === 0 ? '0' : (datum.value === 0.05 ? '.05' : '.1')",
            "grid": false,
            "labelPadding": 5,
            "titlePadding": 2
          }
        },
        "y": {
          "field": "y", "type": "quantitative",
          "scale": {"domain": [-0.0041, 0.1599], "nice": false, "zero": false},
          "axis": {
            "title": "Emigrant first name comn.",
            "values": [0, 0.05, 0.1, 0.15],
            "labelExpr": "datum.value === 0 ? '0' : (datum.value === 0.05 ? '.05' : (datum.value === 0.1 ? '.1' : '.15'))",
            "labelAngle": -90,
            "labelAlign": "center",
            "labelBaseline": "bottom",
            "labelPadding": 6,
            "grid": true,
            "gridColor": "#e6eef0",
            "gridWidth": 1.2,
            "titlePadding": 5
          }
        },
        "color": {
          "field": "g", "type": "nominal", "legend": null,
          "scale": {"domain": ["a", "b", "c", "d"], "range": ["#dcdcdc", "#a0a0a0", "#5e5e5e", "#1f1f1f"]}
        },
        "order": {"field": "g", "type": "nominal"}
      }
    },
    {
      "data": {"values": [{"x": 0.0091, "y": 0.0092}, {"x": 0.1116, "y": 0.1114}]},
      "mark": {"type": "line", "color": "#ff0000", "strokeWidth": 2},
      "encoding": {
        "x": {"field": "x", "type": "quantitative"},
        "y": {"field": "y", "type": "quantitative"}
      }
    }
  ]
}
